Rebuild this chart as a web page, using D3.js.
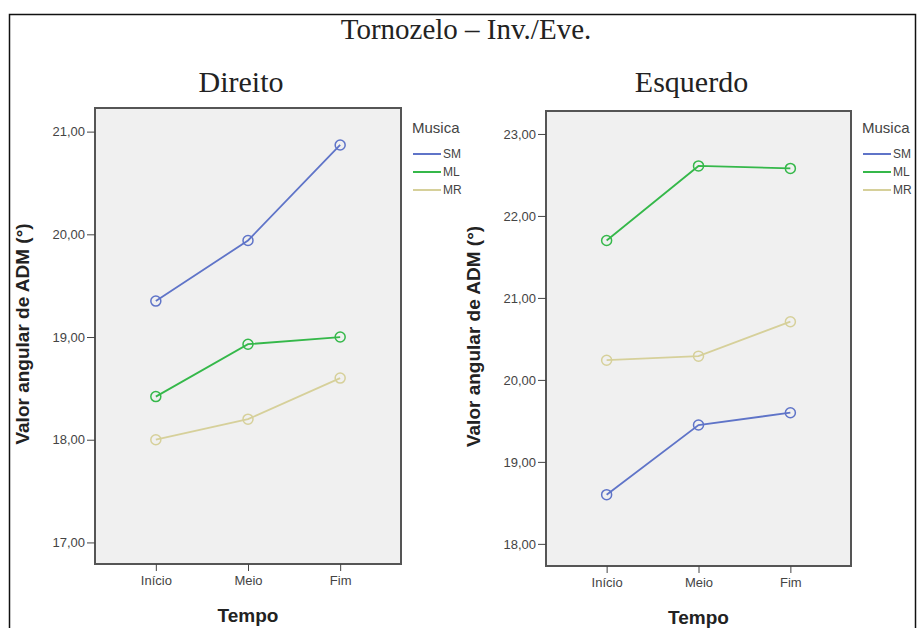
<!DOCTYPE html>
<html>
<head>
<meta charset="utf-8">
<script src="https://cdn.jsdelivr.net/npm/d3@7"></script>
<style>
  body { margin: 0; background: #fff; }
  .tick text { font-family: "Liberation Sans", Arial, sans-serif; font-size: 13px; fill: #444; }
  .domain { display: none; }
  .tick line { stroke: #444; }
</style>
</head>
<body>
<div id="chart"></div>
<script>
var tempos = ["Início", "Meio", "Fim"];
var musicas = ["SM", "ML", "MR"];
var colors = ["#5f74c8", "#35b84a", "#d6d09a"];

// Direito
var direitoSM = [19.35, 19.94, 20.87];
var direitoML = [18.42, 18.93, 19.00];
var direitoMR = [18.00, 18.20, 18.60];
var direitoTicks = [17, 18, 19, 20, 21];

// Esquerdo
var esquerdoSM = [18.60, 19.45, 19.60];
var esquerdoML = [21.70, 22.61, 22.58];
var esquerdoMR = [20.24, 20.29, 20.71];
var esquerdoTicks = [18, 19, 20, 21, 22, 23];

var svg = d3.select("#chart").append("svg")
    .attr("width", 918)
    .attr("height", 628);

// outer frame
svg.append("rect")
    .attr("x", 9.5).attr("y", 14.5)
    .attr("width", 906).attr("height", 640)
    .attr("fill", "none")
    .attr("stroke", "#111")
    .attr("stroke-width", 1.5);

svg.append("text")
    .attr("x", 466).attr("y", 39)
    .attr("text-anchor", "middle")
    .style("font-family", "'Liberation Serif', 'Times New Roman', serif")
    .style("font-size", "29px")
    .attr("fill", "#222")
    .text("Tornozelo – Inv./Eve.");

function drawPanel(opt) {
    var g = svg.append("g");
    var x = d3.scalePoint()
        .domain(tempos)
        .range([opt.left, opt.right])
        .padding(0.66);
    var y = d3.scaleLinear()
        .domain(opt.domain)
        .range([opt.bottom, opt.top]);

    g.append("text")
        .attr("x", (opt.left + opt.right) / 2 - 7)
        .attr("y", 92)
        .attr("text-anchor", "middle")
        .style("font-family", "'Liberation Serif', 'Times New Roman', serif")
        .style("font-size", "30px")
        .attr("fill", "#222")
        .text(opt.title);

    g.append("rect")
        .attr("x", opt.left).attr("y", opt.top)
        .attr("width", opt.right - opt.left)
        .attr("height", opt.bottom - opt.top)
        .attr("fill", "#f0f0f0")
        .attr("stroke", "#555")
        .attr("stroke-width", 2);

    var yAxis = d3.axisLeft(y)
        .tickValues(opt.ticks)
        .tickSize(8)
        .tickPadding(2)
        .tickFormat(function (d) { return d3.format(".2f")(d).replace(".", ","); });
    g.append("g")
        .attr("transform", "translate(" + opt.left + ",0)")
        .call(yAxis);

    var xAxis = d3.axisBottom(x)
        .tickSize(7)
        .tickPadding(5);
    g.append("g")
        .attr("transform", "translate(0," + opt.bottom + ")")
        .call(xAxis);

    g.append("text")
        .attr("transform", "translate(" + (opt.left - 66) + "," + ((opt.top + opt.bottom) / 2 - 2) + ") rotate(-90)")
        .attr("text-anchor", "middle")
        .style("font-family", "'Liberation Sans', Arial, sans-serif")
        .style("font-size", "19px")
        .style("font-weight", "bold")
        .attr("fill", "#222")
        .text("Valor angular de ADM (°)");

    g.append("text")
        .attr("x", (opt.left + opt.right) / 2)
        .attr("y", opt.bottom + 58)
        .attr("text-anchor", "middle")
        .style("font-family", "'Liberation Sans', Arial, sans-serif")
        .style("font-size", "19px")
        .style("font-weight", "bold")
        .attr("fill", "#222")
        .text("Tempo");

    var line = d3.line()
        .x(function (d, i) { return x(tempos[i]); })
        .y(function (d) { return y(d); });

    opt.series.forEach(function (s, k) {
        g.append("path")
            .datum(s)
            .attr("d", line)
            .attr("fill", "none")
            .attr("stroke", colors[k])
            .attr("stroke-width", 1.8);
        g.selectAll(".pt" + k)
            .data(s)
            .enter().append("circle")
            .attr("cx", function (d, i) { return x(tempos[i]); })
            .attr("cy", function (d) { return y(d); })
            .attr("r", 5)
            .attr("fill", "none")
            .attr("stroke", colors[k])
            .attr("stroke-width", 1.5);
    });

    // legend
    var lx = opt.right + 11;
    g.append("text")
        .attr("x", lx).attr("y", 133)
        .style("font-family", "'Liberation Sans', Arial, sans-serif")
        .style("font-size", "15px")
        .attr("fill", "#444")
        .text("Musica");
    musicas.forEach(function (m, k) {
        var ly = 154 + k * 18;
        g.append("line")
            .attr("x1", lx + 1).attr("x2", lx + 29)
            .attr("y1", ly).attr("y2", ly)
            .attr("stroke", colors[k])
            .attr("stroke-width", 2);
        g.append("text")
            .attr("x", lx + 31).attr("y", ly + 4)
            .style("font-family", "'Liberation Sans', Arial, sans-serif")
            .style("font-size", "12px")
            .attr("fill", "#444")
            .text(m);
    });
}

drawPanel({
    title: "Direito",
    left: 95, right: 401, top: 108, bottom: 564,
    domain: [16.79, 21.23],
    ticks: direitoTicks,
    series: [direitoSM, direitoML, direitoMR]
});

drawPanel({
    title: "Esquerdo",
    left: 546, right: 851, top: 111, bottom: 566,
    domain: [17.73, 23.28],
    ticks: esquerdoTicks,
    series: [esquerdoSM, esquerdoML, esquerdoMR]
});
</script>
</body>
</html>
